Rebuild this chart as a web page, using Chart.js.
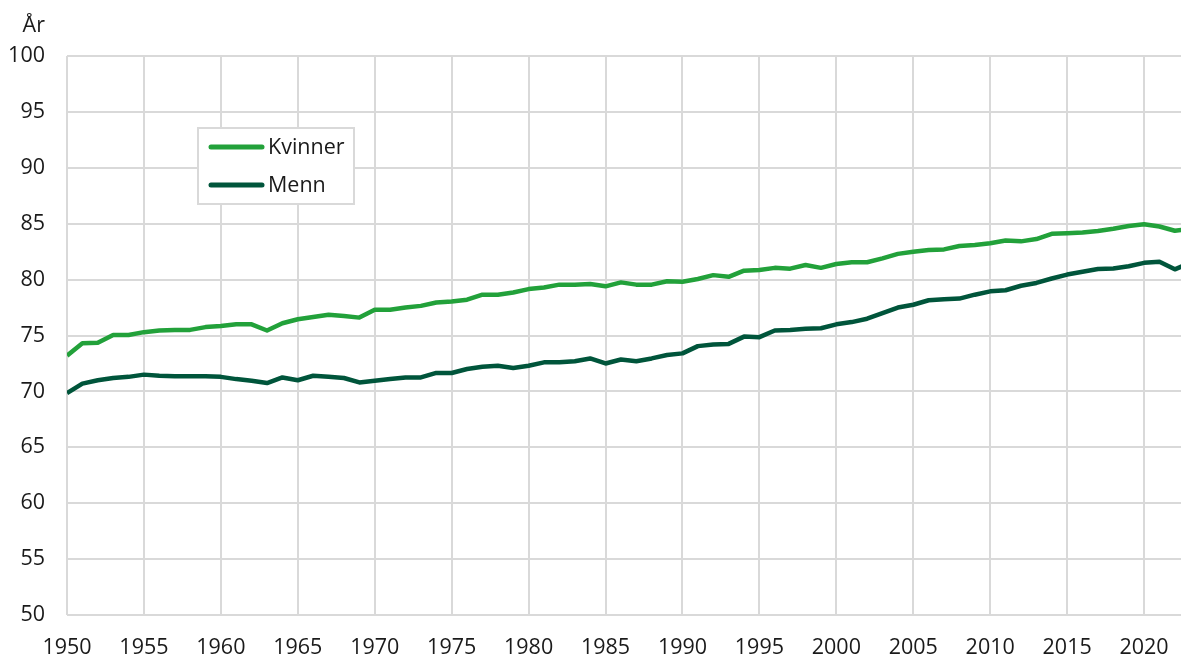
<!DOCTYPE html>
<html>
<head>
<meta charset="utf-8">
<script src="https://cdn.jsdelivr.net/npm/chart.js@4"></script>
<style>
  html, body { margin: 0; padding: 0; background: #fff; }
  #wrap { width: 1181px; height: 657px; position: relative; }
</style>
</head>
<body>
<div id="wrap"><canvas id="lifeChart"></canvas></div>
<script>
// Forventet levealder ved fødsel, 1950-2023
const years = [];
for (let y = 1950; y <= 2023; y++) years.push(y);

const kvinner = [
    73.2, 74.3, 74.35, 75.05, 75.05, 75.3, 75.45, 75.5, 75.5, 75.75,
    75.85, 76.0, 76.0, 75.45, 76.1, 76.45, 76.65, 76.85, 76.75, 76.6,
    77.3, 77.3, 77.5, 77.65, 77.95, 78.05, 78.2, 78.65, 78.65, 78.85,
    79.15, 79.3, 79.55, 79.55, 79.6, 79.4, 79.75, 79.55, 79.55, 79.85,
    79.8, 80.05, 80.4, 80.25, 80.8, 80.85, 81.05, 80.98, 81.3, 81.05,
    81.4, 81.55, 81.55, 81.9, 82.3, 82.5, 82.65, 82.7, 83.0, 83.1,
    83.25, 83.5, 83.42, 83.63, 84.1, 84.15, 84.22, 84.35, 84.55, 84.8,
    84.95, 84.75, 84.37, 84.55
];

const menn = [
    69.85, 70.7, 71.0, 71.2, 71.3, 71.5, 71.4, 71.35, 71.35, 71.35,
    71.3, 71.1, 70.95, 70.75, 71.25, 71.0, 71.4, 71.3, 71.2, 70.8,
    70.95, 71.1, 71.25, 71.25, 71.65, 71.65, 72.0, 72.2, 72.3, 72.1,
    72.3, 72.6, 72.6, 72.7, 72.95, 72.5, 72.85, 72.7, 72.95, 73.25,
    73.4, 74.05, 74.2, 74.25, 74.9, 74.85, 75.45, 75.5, 75.6, 75.65,
    76.0, 76.2, 76.5, 77.0, 77.5, 77.75, 78.15, 78.25, 78.3, 78.65,
    78.95, 79.05, 79.45, 79.7, 80.1, 80.45, 80.7, 80.95, 81.0, 81.2,
    81.5, 81.6, 80.92, 81.5
];

const xTicks = [1950, 1955, 1960, 1965, 1970, 1975, 1980, 1985, 1990, 1995, 2000, 2005, 2010, 2015, 2020];
const seriesNames = ['Kvinner', 'Menn'];
const seriesColors = ['#22a13a', '#00553b'];
const yUnit = 'År';

const FONT = '"Open Sans", "Noto Sans", sans-serif';
const TEXT = '#1a1a1a';
const FSIZE = 21.5;

// Legend box inside the plot and the unit label above the y axis
const extras = {
    id: 'extras',
    afterDraw(chart) {
        const ctx = chart.ctx;
        ctx.save();
        ctx.font = FSIZE + 'px ' + FONT;
        ctx.fillStyle = TEXT;
        ctx.textAlign = 'right';
        ctx.textBaseline = 'alphabetic';
        ctx.fillText(yUnit, 45, 32);

        // legend
        const bx = 198, by = 128, bw = 156, bh = 76;
        ctx.fillStyle = '#fff';
        ctx.fillRect(bx, by, bw, bh);
        ctx.strokeStyle = '#d9d9d9';
        ctx.lineWidth = 2;
        ctx.strokeRect(bx, by, bw, bh);
        ctx.textBaseline = 'middle';
        chart.data.datasets.forEach((ds, i) => {
            const y = by + 19 + i * 38;
            ctx.strokeStyle = ds.borderColor;
            ctx.lineWidth = 5;
            ctx.lineCap = 'round';
            ctx.beginPath();
            ctx.moveTo(bx + 13, y);
            ctx.lineTo(bx + 64, y);
            ctx.stroke();
            ctx.fillStyle = TEXT;
            ctx.textAlign = 'left';
            ctx.fillText(ds.label, bx + 70, y + 1);
        });
        ctx.restore();
    }
};

const datasets = [kvinner, menn].map((vals, i) => ({
    label: seriesNames[i],
    data: years.map((y, j) => ({ x: y, y: vals[j] })),
    borderColor: seriesColors[i],
    backgroundColor: seriesColors[i],
    borderWidth: 4.5,
    pointRadius: 0,
    tension: 0,
    borderJoinStyle: 'round',
    clip: 0
}));

new Chart(document.getElementById('lifeChart'), {
    type: 'line',
    data: { datasets: datasets },
    options: {
        responsive: true,
        maintainAspectRatio: false,
        animation: false,
        layout: { padding: { top: 56, right: 0, left: 0, bottom: 0 } },
        plugins: {
            legend: { display: false },
            tooltip: { enabled: false }
        },
        scales: {
            x: {
                type: 'linear',
                min: 1950,
                max: 2022.4,
                afterBuildTicks: axis => { axis.ticks = xTicks.map(v => ({ value: v })); },
                afterFit: axis => {
                    axis.height = 42;
                    axis.paddingLeft = 0;
                    axis.paddingRight = 0;
                },
                grid: { color: '#d9d9d9', lineWidth: 2, drawTicks: false },
                border: { display: false },
                ticks: {
                    color: TEXT,
                    font: { family: FONT, size: FSIZE },
                    padding: 20,
                    maxRotation: 0,
                    autoSkip: false,
                    callback: v => String(v)
                }
            },
            y: {
                min: 50,
                max: 100,
                afterFit: axis => {
                    axis.width = 67;
                    axis.paddingTop = 0;
                    axis.paddingBottom = 0;
                },
                grid: { color: '#d9d9d9', lineWidth: 2, drawTicks: false },
                border: { display: false },
                ticks: {
                    stepSize: 5,
                    color: TEXT,
                    font: { family: FONT, size: FSIZE },
                    padding: 22
                }
            }
        }
    },
    plugins: [extras]
});
</script>
</body>
</html>
